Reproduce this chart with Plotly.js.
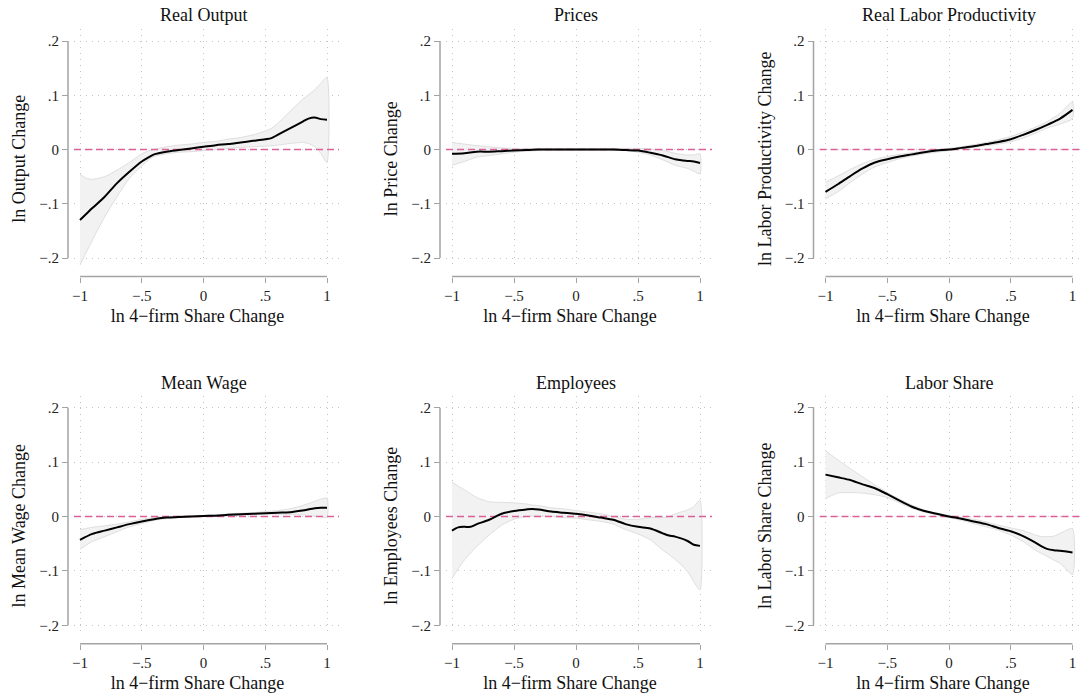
<!DOCTYPE html>
<html>
<head>
<meta charset="utf-8">
<script src="https://cdn.plot.ly/plotly-3.0.1.min.js"></script>
<style>html,body{margin:0;padding:0;background:#fff}</style>
</head>
<body>
<div id="chart" style="width:1080px;height:696px"></div>
<script>
// ---------------- DATA ----------------
const panelTitles = ['Real Output', 'Prices', 'Real Labor Productivity', 'Mean Wage', 'Employees', 'Labor Share'];
const yTitles = ['ln Output Change', 'ln Price Change', 'ln Labor Productivity Change', 'ln Mean Wage Change', 'ln Employees Change', 'ln Labor Share Change'];
const xTitle = 'ln 4\u2212firm Share Change';
const xTickVals = [-1, -0.5, 0, 0.5, 1];
const xTickText = ['\u22121', '\u2212.5', '0', '.5', '1'];
const yTickVals = [-0.2, -0.1, 0, 0.1, 0.2];
const yTickText = ['\u2212.2', '\u2212.1', '0', '.1', '.2'];
const refLevel = 0;

// Real Output
const x1 = [-1,-0.95,-0.9,-0.8,-0.7,-0.6,-0.5,-0.45,-0.4,-0.3,-0.2,-0.1,0,0.1,0.2,0.3,0.4,0.5,0.55,0.6,0.7,0.8,0.85,0.9,0.95,1];
const mean1 = [-0.130,-0.119,-0.108,-0.087,-0.062,-0.041,-0.022,-0.015,-0.009,-0.004,-0.001,0.002,0.005,0.008,0.010,0.013,0.016,0.019,0.021,0.027,0.039,0.051,0.057,0.059,0.056,0.055];
const hi1 = [-0.046,-0.053,-0.055,-0.050,-0.038,-0.024,-0.008,-0.003,0.000,0.005,0.008,0.010,0.013,0.015,0.019,0.022,0.027,0.034,0.039,0.048,0.070,0.092,0.101,0.110,0.122,0.133];
const lo1 = [-0.213,-0.190,-0.167,-0.124,-0.087,-0.053,-0.030,-0.020,-0.013,-0.008,-0.005,-0.004,-0.002,0.000,0.002,0.004,0.005,0.006,0.007,0.008,0.011,0.013,0.011,0.005,-0.007,-0.024];

// Prices
const x2 = [-1,-0.9,-0.8,-0.7,-0.6,-0.5,-0.4,-0.3,-0.2,-0.1,0,0.1,0.2,0.3,0.4,0.5,0.6,0.7,0.8,0.85,0.9,0.95,1];
const mean2 = [-0.008,-0.007,-0.004,-0.004,-0.003,-0.002,-0.001,0,0,0,0,0,0,0,-0.001,-0.002,-0.006,-0.011,-0.018,-0.020,-0.021,-0.022,-0.025];
const hi2 = [0.013,0.010,0.007,0.005,0.003,0.002,0.002,0.002,0.002,0.002,0.002,0.002,0.002,0.002,0.002,0.002,0.001,-0.002,-0.007,-0.009,-0.010,-0.010,-0.008];
const lo2 = [-0.029,-0.022,-0.014,-0.011,-0.008,-0.005,-0.003,-0.002,-0.002,-0.002,-0.002,-0.002,-0.002,-0.002,-0.002,-0.005,-0.010,-0.019,-0.029,-0.032,-0.035,-0.040,-0.045];

// Real Labor Productivity
const x3 = [-1,-0.9,-0.8,-0.7,-0.6,-0.5,-0.4,-0.3,-0.2,-0.1,0,0.1,0.2,0.3,0.4,0.5,0.6,0.7,0.8,0.9,1];
const mean3 = [-0.078,-0.064,-0.049,-0.035,-0.024,-0.018,-0.013,-0.009,-0.005,-0.002,0.000,0.003,0.006,0.010,0.014,0.019,0.027,0.036,0.046,0.057,0.073];
const hi3 = [-0.060,-0.049,-0.037,-0.026,-0.018,-0.013,-0.009,-0.006,-0.003,0.000,0.002,0.005,0.009,0.013,0.018,0.024,0.032,0.041,0.052,0.067,0.088];
const lo3 = [-0.091,-0.078,-0.061,-0.045,-0.032,-0.024,-0.017,-0.012,-0.008,-0.005,-0.002,0.001,0.004,0.007,0.010,0.014,0.021,0.030,0.040,0.047,0.057];

// Mean Wage
const x4 = [-1,-0.9,-0.8,-0.7,-0.6,-0.5,-0.4,-0.3,-0.2,-0.1,0,0.1,0.2,0.3,0.4,0.5,0.6,0.7,0.8,0.9,0.95,1];
const mean4 = [-0.043,-0.032,-0.026,-0.020,-0.014,-0.009,-0.005,-0.002,-0.001,0.000,0.001,0.0015,0.003,0.004,0.005,0.006,0.007,0.008,0.011,0.015,0.016,0.016];
const hi4 = [-0.024,-0.020,-0.017,-0.014,-0.010,-0.005,-0.002,0.000,0.001,0.001,0.002,0.003,0.005,0.006,0.007,0.009,0.011,0.014,0.020,0.028,0.032,0.034];
const lo4 = [-0.060,-0.046,-0.037,-0.028,-0.019,-0.013,-0.007,-0.004,-0.002,-0.001,0.000,0.001,0.001,0.002,0.003,0.004,0.004,0.004,0.003,0.001,0.000,-0.002];

// Employees
const x5 = [-1,-0.95,-0.9,-0.85,-0.8,-0.7,-0.6,-0.5,-0.4,-0.35,-0.3,-0.2,-0.1,0,0.1,0.2,0.3,0.4,0.5,0.6,0.7,0.75,0.8,0.9,0.95,1];
const mean5 = [-0.026,-0.020,-0.019,-0.019,-0.014,-0.006,0.005,0.010,0.013,0.014,0.013,0.009,0.007,0.005,0.002,-0.002,-0.006,-0.014,-0.019,-0.022,-0.031,-0.035,-0.037,-0.045,-0.052,-0.054];
const hi5 = [0.063,0.056,0.049,0.042,0.035,0.027,0.026,0.025,0.023,0.021,0.020,0.016,0.014,0.011,0.008,0.005,0.000,-0.005,-0.005,-0.002,-0.002,0.000,0.005,0.012,0.018,0.030];
const lo5 = [-0.114,-0.096,-0.080,-0.067,-0.055,-0.034,-0.016,-0.005,0.000,0.001,0.001,0.000,-0.002,-0.003,-0.006,-0.009,-0.014,-0.024,-0.032,-0.043,-0.062,-0.070,-0.079,-0.101,-0.120,-0.135];

// Labor Share
const x6 = [-1,-0.9,-0.8,-0.7,-0.6,-0.5,-0.4,-0.3,-0.2,-0.1,0,0.1,0.2,0.3,0.4,0.5,0.6,0.7,0.75,0.8,0.85,0.9,1];
const mean6 = [0.077,0.072,0.067,0.059,0.052,0.041,0.029,0.018,0.010,0.005,0.000,-0.004,-0.009,-0.014,-0.021,-0.027,-0.036,-0.048,-0.055,-0.060,-0.062,-0.063,-0.066];
const hi6 = [0.121,0.104,0.088,0.073,0.058,0.044,0.032,0.021,0.012,0.006,0.002,-0.002,-0.005,-0.010,-0.016,-0.021,-0.026,-0.034,-0.037,-0.037,-0.036,-0.031,-0.022];
const lo6 = [0.033,0.043,0.044,0.043,0.040,0.035,0.025,0.015,0.008,0.003,-0.002,-0.007,-0.013,-0.019,-0.025,-0.034,-0.046,-0.062,-0.068,-0.074,-0.080,-0.086,-0.107];

const xs = [x1, x2, x3, x4, x5, x6];
const means = [mean1, mean2, mean3, mean4, mean5, mean6];
const his = [hi1, hi2, hi3, hi4, hi5, hi6];
const los = [lo1, lo2, lo3, lo4, lo5, lo6];

// ---------------- LAYOUT GEOMETRY (pixels) ----------------
const W = 1080, H = 696;
const colLeftTick = [80, 452, 825.5], colRightTick = [327, 700, 1072.5];
const rowTopTick = [41, 407.7], rowBotTick = [258, 625.3];
const titleYpx = [15, 383];
const yAxisGap = 12, xAxisGap = 18.5;       // offset of the axis lines from the first tick
const FONT = 'Liberation Serif, DejaVu Serif, serif';
const axisGray = '#a3a3a3';

const traces = [];
const layout = {
  width: W, height: H,
  margin: {l: 0, r: 0, t: 0, b: 0},
  paper_bgcolor: '#fff', plot_bgcolor: 'rgba(0,0,0,0)',
  showlegend: false,
  font: {family: FONT, color: '#222'},
  annotations: []
};

const gridStyle = {showgrid: true, gridcolor: '#c4c4c4', gridwidth: 1, griddash: '1px,5px'};

for (let i = 0; i < 6; i++) {
  const r = Math.floor(i / 3), c = i % 3;
  const n = i + 1, m = i + 7;                 // data axes n, display axes m
  const sfx = k => (k > 1 ? String(k) : '');
  const xid = 'x' + sfx(n), yid = 'y' + sfx(n);
  const xdid = 'x' + m, ydid = 'y' + m;

  const xl = colLeftTick[c], xr = colRightTick[c];
  const sx = (xr - xl) / (xTickVals[4] - xTickVals[0]);
  const yt = rowTopTick[r], yb = rowBotTick[r];
  const sy = (yb - yt) / (yTickVals[4] - yTickVals[0]);

  // data region (grid + curves)
  const left = xl - 6, right = Math.min(xr + 12, W);
  const xRange = [xTickVals[0] - (xl - left) / sx, xTickVals[4] + (right - xr) / sx];
  const top = yt - 12, bottom = yb + 11;
  const yRange = [yTickVals[0] - (bottom - yb) / sy, yTickVals[4] + (yt - top) / sy];

  // display region (offset axis lines, ticks, labels)
  const dl = xl - yAxisGap - 2, dr = xr + 2, dt = yt - 2, db = yb + xAxisGap + 2;
  const xDispRange = [xTickVals[0] - (xl - dl) / sx, xTickVals[4] + (dr - xr) / sx];
  const yDispRange = [yTickVals[0] - (db - yb) / sy, yTickVals[4] + (yt - dt) / sy];
  const yLineVal = xTickVals[0] - yAxisGap / sx;   // x position of the y-axis line
  const xLineVal = yTickVals[0] - xAxisGap / sy;   // y position of the x-axis line

  layout['xaxis' + sfx(n)] = Object.assign({
    domain: [left / W, right / W], range: xRange.slice(), anchor: yid,
    tickmode: 'array', tickvals: xTickVals, ticks: '', showticklabels: false,
    showline: false, zeroline: false, fixedrange: true
  }, gridStyle);
  layout['yaxis' + sfx(n)] = Object.assign({
    domain: [1 - bottom / H, 1 - top / H], range: yRange.slice(), anchor: xid,
    tickmode: 'array', tickvals: yTickVals, ticks: '', showticklabels: false,
    showline: false, zeroline: false, fixedrange: true
  }, gridStyle);

  layout['xaxis' + m] = {
    domain: [dl / W, dr / W], range: xDispRange, anchor: 'free', position: 1 - (yb + xAxisGap) / H,
    tickmode: 'array', tickvals: xTickVals, ticktext: xTickText,
    ticks: 'outside', ticklen: 5, tickwidth: 1, tickcolor: axisGray,
    showline: false, showgrid: false, zeroline: false,
    tickfont: {family: FONT, size: 15, color: '#222'},
    title: {text: xTitle, font: {family: FONT, size: 18, color: '#111'}, standoff: 6},
    fixedrange: true
  };
  layout['yaxis' + m] = {
    domain: [1 - db / H, 1 - dt / H], range: yDispRange, anchor: 'free', position: (xl - yAxisGap) / W,
    tickmode: 'array', tickvals: yTickVals, ticktext: yTickText,
    ticks: 'outside', ticklen: 6, tickwidth: 1, tickcolor: axisGray,
    showline: false, showgrid: false, zeroline: false,
    tickfont: {family: FONT, size: 15, color: '#222'},
    title: {text: yTitles[i], font: {family: FONT, size: 18, color: '#111'}, standoff: 7},
    fixedrange: true
  };

  layout.annotations.push({
    text: panelTitles[i], xref: 'paper', yref: 'paper',
    x: (xl + xr) / 2 / W, y: 1 - titleYpx[r] / H, xanchor: 'center', yanchor: 'middle',
    showarrow: false, font: {family: FONT, size: 18, color: '#111'}
  });

  const xx = xs[i];
  // confidence band
  traces.push({
    type: 'scatter', mode: 'lines', xaxis: xid, yaxis: yid,
    x: xx.concat(xx.slice().reverse()),
    y: his[i].concat(los[i].slice().reverse()),
    fill: 'toself', fillcolor: '#f2f2f2',
    line: {color: '#dedede', width: 1, shape: 'spline', smoothing: 0.6},
    hoverinfo: 'skip'
  });
  // reference line at zero spanning the full axis range
  traces.push({
    type: 'scatter', mode: 'lines', xaxis: xid, yaxis: yid,
    x: xRange.slice(), y: [refLevel, refLevel],
    line: {color: '#dc5f9a', width: 1.3, dash: '7px,4px'},
    hoverinfo: 'skip'
  });
  // fitted curve
  traces.push({
    type: 'scatter', mode: 'lines', xaxis: xid, yaxis: yid,
    x: xx, y: means[i],
    line: {color: '#000', width: 2, shape: 'spline', smoothing: 0.8},
    hoverinfo: 'skip'
  });
  // offset axis lines spanning the tick range only
  traces.push({
    type: 'scatter', mode: 'lines', xaxis: xdid, yaxis: ydid,
    x: [yLineVal, yLineVal], y: [yTickVals[0], yTickVals[4]],
    line: {color: axisGray, width: 1.5}, hoverinfo: 'skip'
  });
  traces.push({
    type: 'scatter', mode: 'lines', xaxis: xdid, yaxis: ydid,
    x: [xTickVals[0], xTickVals[4]], y: [xLineVal, xLineVal],
    line: {color: axisGray, width: 1.5}, hoverinfo: 'skip'
  });
}

Plotly.newPlot('chart', traces, layout, {staticPlot: true, displayModeBar: false});
</script>
</body>
</html>
